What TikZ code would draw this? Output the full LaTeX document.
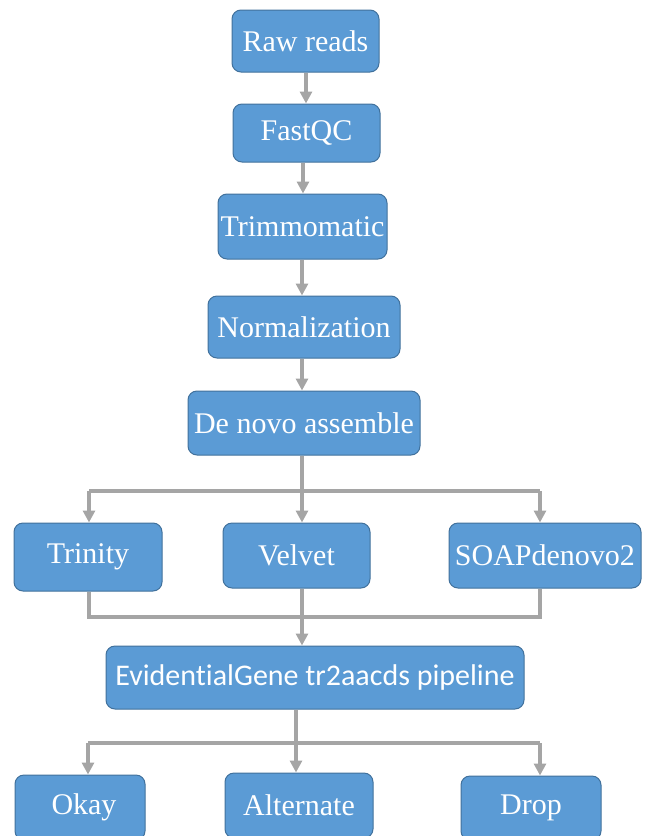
\documentclass[tikz,border=0pt]{standalone}
\usepackage{fontspec}
\setmainfont{Liberation Serif}
\newfontfamily\calib[Ligatures=NoCommon]{Carlito}
\usetikzlibrary{arrows.meta}
\definecolor{boxblue}{HTML}{5B9BD5}
\definecolor{boxedge}{HTML}{41719C}
\definecolor{conn}{HTML}{A5A5A5}
\tikzset{
  box/.style={draw=boxedge, line width=1pt, fill=boxblue, rounded corners=9pt,
    text=white, inner sep=0pt, align=center,
    font=\fontsize{30}{32}\selectfont},
  line/.style={draw=conn, line width=3.5pt},
  arr/.style={line, -{Triangle[width=12pt,length=12pt]}},
}
\begin{document}
\begin{tikzpicture}[x=1pt,y=-1pt]
\useasboundingbox (0,0) rectangle (646,836);
% nodes
\node[box, minimum width=147pt, minimum height=62pt] (raw) at (305.5,41) {Raw reads};
\node[box, minimum width=147pt, minimum height=58pt] (fastqc) at (306.5,133) {FastQC};
\node[box, minimum width=169pt, minimum height=65pt] (trim) at (302.5,226.5) {Trimmomatic};
\node[box, minimum width=192pt, minimum height=62pt] (norm) at (304,327) {Normalization};
\node[box, minimum width=232pt, minimum height=64pt] (denovo) at (304,423) {De novo assemble};
\node[box, minimum width=148pt, minimum height=68pt] (trinity) at (88,557) {Trinity};
\node[box, minimum width=147pt, minimum height=65pt] (velvet) at (296.5,555.5) {Velvet};
\node[box, minimum width=192pt, minimum height=65pt] (soap) at (545,555.5) {SOAPdenovo2};
\node[box, minimum width=418pt, minimum height=63pt, font=\calib\fontsize{30}{32}\selectfont] (evid) at (315,677.5) {EvidentialGene tr2aacds pipeline};
\node[box, minimum width=130pt, minimum height=65pt] (okay) at (80,807.5) {\hspace*{8pt}Okay};
\node[box, minimum width=148pt, minimum height=65pt] (alt) at (299,805.5) {Alternate};
\node[box, minimum width=140pt, minimum height=64pt] (drop) at (531,808) {Drop};
% bus coordinates
\coordinate (bL) at (89,491);
\coordinate (bM) at (302,491);
\coordinate (bR) at (540,491);
\coordinate (mL) at (89,617);
\coordinate (mM) at (302,617);
\coordinate (mR) at (540,617);
\coordinate (cL) at (88,743);
\coordinate (cM) at (296,743);
\coordinate (cR) at (540,743);
\coordinate (x1) at (306,0);
\coordinate (x2) at (303,0);
% top chain
\draw[arr] (raw.south -| x1) -- (fastqc.north -| x1);
\draw[arr] (fastqc.south -| x2) -- (trim.north -| x2);
\draw[arr] (trim.south -| bM) -- (norm.north -| bM);
\draw[arr] (norm.south -| bM) -- (denovo.north -| bM);
% split to assemblers
\draw[line] (denovo.south -| bM) -- (bM);
\draw[line] (bL) -- (bR);
\draw[arr] (bL) -- (trinity.north -| bL);
\draw[arr] (bM) -- (velvet.north -| bM);
\draw[arr] (bR) -- (soap.north -| bR);
% merge
\draw[line] (trinity.south -| mL) -- (mL) -- (mR) -- (soap.south -| mR);
\draw[arr] (velvet.south -| mM) -- (evid.north -| mM);
% split to classes
\draw[line] (evid.south -| cM) -- (cM);
\draw[line] (cL) -- (cR);
\draw[arr] (cL) -- (okay.north -| cL);
\draw[arr] (cM) -- (alt.north -| cM);
\draw[arr] (cR) -- (drop.north -| cR);
\end{tikzpicture}
\end{document}
